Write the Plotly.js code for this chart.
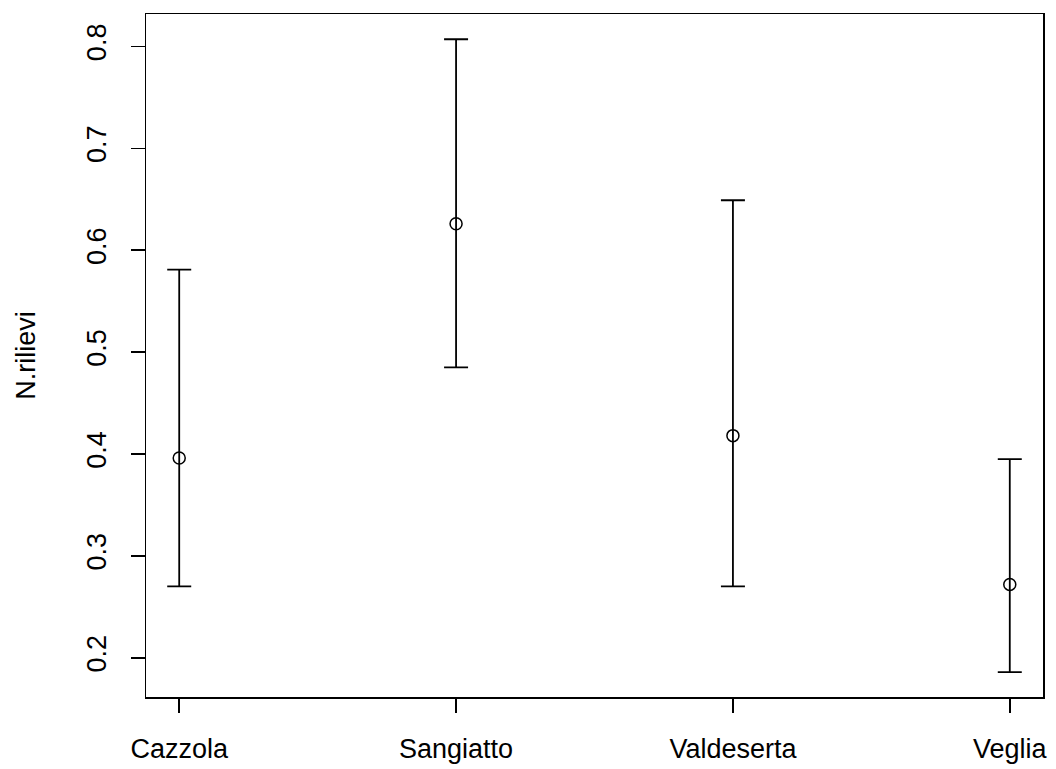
<!DOCTYPE html>
<html>
<head>
<meta charset="utf-8">
<script src="https://cdn.plot.ly/plotly-3.0.1.min.js"></script>
<style>html,body{margin:0;padding:0;background:#fff;}#chart{width:1056px;height:769px;}</style>
</head>
<body>
<div id="chart"></div>
<script>
var categories = ["Cazzola", "Sangiatto", "Valdeserta", "Veglia"];
var positions = [1, 2, 3, 4];
var means = [0.396, 0.626, 0.418, 0.272];
var upper = [0.581, 0.807, 0.649, 0.395];
var lower = [0.270, 0.485, 0.270, 0.186];
var yTicks = [0.2, 0.3, 0.4, 0.5, 0.6, 0.7, 0.8];

var plus = upper.map(function (u, i) { return u - means[i]; });
var minus = lower.map(function (l, i) { return means[i] - l; });

var trace = {
  x: positions,
  y: means,
  type: 'scatter',
  mode: 'markers',
  marker: { symbol: 'circle-open', size: 12, color: '#000', line: { width: 1.5, color: '#000' } },
  error_y: {
    type: 'data', symmetric: false, array: plus, arrayminus: minus,
    color: '#000', thickness: 1.8, width: 12
  },
  hoverinfo: 'x+y',
  showlegend: false
};

var font = { family: 'Liberation Sans, Arial, sans-serif', size: 27, color: '#000' };

var layout = {
  width: 1056, height: 769,
  margin: { l: 146, r: 13, t: 14, b: 72 },
  paper_bgcolor: '#fff', plot_bgcolor: '#fff',
  font: font,
  xaxis: {
    range: [0.88, 4.12],
    tickvals: positions, ticktext: categories,
    ticks: 'outside', ticklen: 14, tickwidth: 1.5, tickcolor: '#000',
    showline: true, linecolor: '#000', linewidth: 1.5, mirror: true,
    showgrid: false, zeroline: false,
    tickfont: font, ticklabelstandoff: 13
  },
  yaxis: {
    range: [0.1615, 0.8318],
    tickvals: yTicks, ticktext: yTicks.map(function (v) { return v.toFixed(1); }),
    ticks: 'outside', ticklen: 14, tickwidth: 1.5, tickcolor: '#000',
    showline: true, linecolor: '#000', linewidth: 1.5, mirror: true,
    showgrid: false, zeroline: false,
    tickangle: -90, tickfont: font, ticklabelstandoff: 14,
    title: { text: 'N.rilievi', font: font, standoff: 38 }
  }
};

Plotly.newPlot('chart', [trace], layout, { displayModeBar: false, staticPlot: true });
</script>
</body>
</html>
